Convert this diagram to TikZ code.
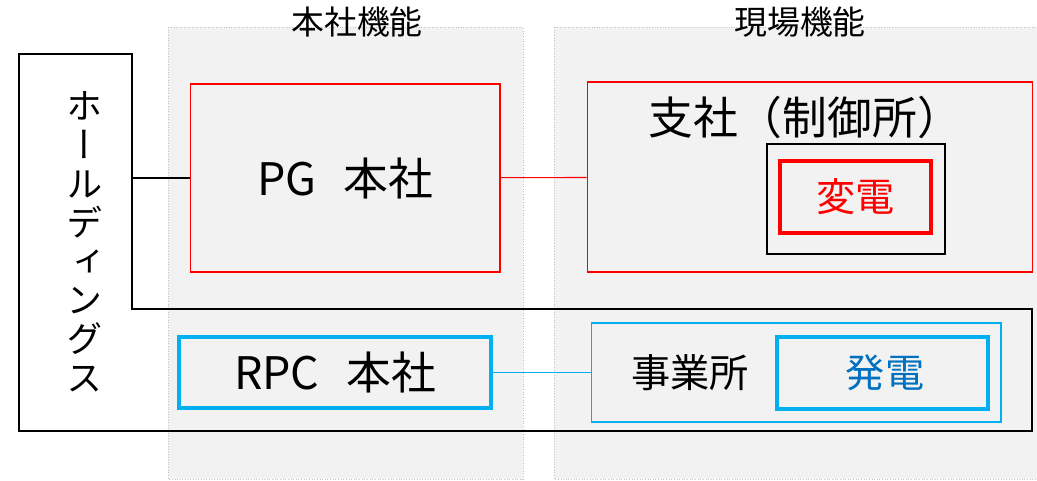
\documentclass[tikz,border=0pt]{standalone}
\usepackage{fontspec}
\setmainfont{Noto Sans CJK JP}
\newfontfamily\tatefont[RawFeature=+vert]{Noto Sans CJK JP}
\definecolor{boxred}{HTML}{FF0000}
\definecolor{boxcyan}{HTML}{00B0F0}
\definecolor{txtblue}{HTML}{0070C0}
\definecolor{panelgray}{HTML}{F2F2F2}
\definecolor{dotgray}{HTML}{C4C4C4}

\begin{document}
\begin{tikzpicture}[x=0.02cm,y=-0.02cm,
  every node/.style={inner sep=0pt},
  panel/.style={fill=panelgray,draw=dotgray,densely dotted,line width=0.5pt},
  head/.style={font=\fontsize{18.7}{20}\selectfont},
  thinred/.style={draw=boxred,line width=0.6pt},
  thinblue/.style={draw=boxcyan,line width=0.6pt},
  thickred/.style={draw=boxred,line width=2pt},
  thickblue/.style={draw=boxcyan,line width=1.8pt},
  big/.style={font=\fontsize{25.5}{28}\selectfont},
  mid/.style={font=\fontsize{22.3}{24}\selectfont}]
  \useasboundingbox (0,0) rectangle (1037,480);

  \draw[panel] (168,27) rectangle (523,479);
  \draw[panel] (554,27) rectangle (1037,479);
  \node[head] (hqttl) at (357,22) {本社機能};
  \node[head] (fldttl) at (800,22) {現場機能};

  \draw[black,line width=0.9pt] (19,54) -- (132,54) -- (132,309) -- (1032,309)
    -- (1032,431) -- (19,431) -- cycle;
  \coordinate (hd) at (132,178);
  \node[align=center,font=\tatefont\fontsize{20.6}{22.1}\selectfont] (hdtxt) at (85,242)
    {ホ\\ー\\ル\\デ\\ィ\\ン\\グ\\ス};

  \node[thinred,minimum width=6.2cm,minimum height=3.76cm,big] (pg) at (345,178) {PG\hspace{0.6em}本社};
  \node[thinred,minimum width=8.92cm,minimum height=3.8cm] (shisha) at (810,177) {};
  \node[big] (shishatxt) at (805,117) {支社（制御所）};
  \node[draw,line width=0.9pt,minimum width=3.56cm,minimum height=2.2cm] (hensoto) at (856,199) {};
  \node[thickred,minimum width=3.02cm,minimum height=1.44cm,mid,text=boxred] (hen) at (855.5,197) {変電};

  \node[thickblue,minimum width=6.24cm,minimum height=1.42cm,big] (rpc) at (335,372.5) {RPC\hspace{0.6em}本社};
  \node[thinblue,minimum width=8.2cm,minimum height=1.98cm] (jigyo) at (796,372.5) {};
  \node[mid] (jigyotxt) at (690,373) {事業所};
  \node[thickblue,minimum width=4.22cm,minimum height=1.44cm] (hatsu) at (882.5,373) {};
  \node[mid,text=txtblue] (hatsutxt) at (885,373) {発電};

  \draw[black,line width=0.9pt] (hd) -- (pg.west);
  \draw[boxred,line width=0.6pt] (pg) -- (shisha);
  \draw[boxcyan,line width=0.9pt] (rpc) -- (jigyo);
\end{tikzpicture}
\end{document}
